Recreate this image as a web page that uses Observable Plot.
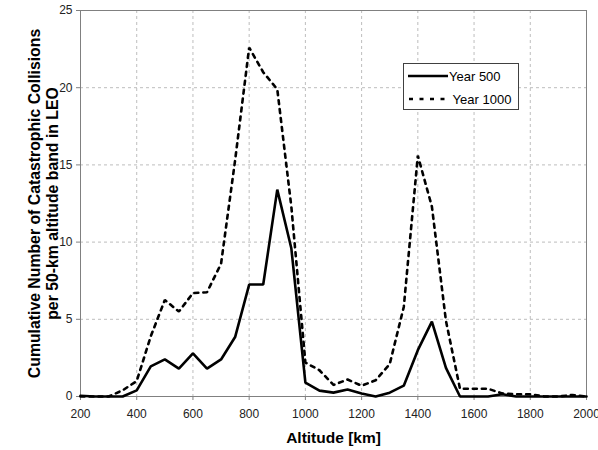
<!DOCTYPE html>
<html>
<head>
<meta charset="utf-8">
<script src="https://cdn.jsdelivr.net/npm/d3@7"></script>
<script src="https://cdn.jsdelivr.net/npm/@observablehq/plot@0.6"></script>
<style>
  body { margin: 0; background: #fff; }
  #wrap { position: relative; width: 598px; height: 450px; }
  #legend {
    position: absolute; left: 403px; top: 63px; width: 114px; height: 45px;
    border: 1px solid #404040; background: #fff;
    font-family: "Liberation Sans", Arial, sans-serif; font-size: 13px; color: #000;
  }
  .row { position: absolute; left: 4px; height: 16px; display: flex; align-items: center; }
  .row svg { margin-right: 1px; }
</style>
</head>
<body>
<div id="wrap"></div>
<script>
const altitudes = [200, 250, 300, 350, 400, 450, 500, 550, 600, 650, 700, 750, 800, 850, 900, 950,
  1000, 1050, 1100, 1150, 1200, 1250, 1300, 1350, 1400, 1450, 1500, 1550, 1600, 1650, 1700, 1750,
  1800, 1850, 1900, 1950, 2000];
const year500 = [0.05, 0, 0, 0, 0.4, 1.95, 2.4, 1.8, 2.8, 1.8, 2.4, 3.85, 7.25, 7.25, 13.4, 9.6,
  0.9, 0.38, 0.25, 0.45, 0.2, 0, 0.25, 0.7, 3.0, 4.85, 1.85, 0, 0, 0, 0.15, 0,
  0, 0, 0, 0, 0];
const year1000 = [0, 0, 0, 0.4, 1.0, 3.9, 6.25, 5.5, 6.7, 6.75, 8.6, 15.3, 22.6, 21.0, 19.9, 12.3,
  2.2, 1.7, 0.75, 1.1, 0.7, 1.05, 2.1, 5.8, 15.6, 12.3, 4.9, 0.5, 0.5, 0.5, 0.2, 0.15,
  0.15, 0, 0, 0.1, 0];
const seriesNames = ["Year 500", "Year 1000"];
const xTicks = [200, 400, 600, 800, 1000, 1200, 1400, 1600, 1800, 2000];
const yTicks = [0, 5, 10, 15, 20, 25];
const xTitle = "Altitude [km]";
const yTitle = "Cumulative Number of Catastrophic Collisions\nper 50-km altitude band in LEO";

const d500 = altitudes.map((a, i) => ({alt: a, v: year500[i]}));
const d1000 = altitudes.map((a, i) => ({alt: a, v: year1000[i]}));

const chart = Plot.plot({
  width: 598,
  height: 450,
  marginLeft: 80,
  marginRight: 12,
  marginTop: 10,
  marginBottom: 54,
  style: {fontFamily: "Liberation Sans, Arial, sans-serif", fontSize: "12px", color: "#222", background: "#fff", overflow: "visible"},
  x: {domain: [200, 2000], ticks: xTicks, label: null},
  y: {domain: [0, 25], ticks: yTicks, label: null},
  marks: [
    Plot.gridX(xTicks, {stroke: "#bdbdbd", strokeOpacity: 1, strokeDasharray: "3,3"}),
    Plot.gridY(yTicks, {stroke: "#bdbdbd", strokeOpacity: 1, strokeDasharray: "3,3"}),
    Plot.frame({stroke: "#808080"}),
    Plot.axisX({ticks: xTicks, tickSize: 4, tickPadding: 9, label: null, stroke: "#808080", tickFormat: d => String(d)}),
    Plot.axisY({ticks: yTicks, tickSize: 4, tickPadding: 4, label: null, stroke: "#808080", tickFormat: d => String(d)}),
    Plot.line(d1000, {x: "alt", y: "v", stroke: "#000", strokeWidth: 2.6, strokeDasharray: "4,5", strokeLinejoin: "miter"}),
    Plot.line(d500, {x: "alt", y: "v", stroke: "#000", strokeWidth: 2.6, strokeLinejoin: "miter"}),
    Plot.text([xTitle], {frameAnchor: "bottom", dy: 42, fontWeight: "bold", fontSize: 15.5, fill: "#000", lineAnchor: "middle", textAnchor: "middle"}),
    Plot.text([yTitle], {frameAnchor: "left", dx: -37, rotate: -90, fontWeight: "bold", fontSize: 15.8, fill: "#000", lineAnchor: "middle", textAnchor: "middle", lineHeight: 1.13})
  ]
});
const wrap = document.getElementById("wrap");
wrap.appendChild(chart);

const legend = document.createElement("div");
legend.id = "legend";
legend.innerHTML = `
  <div class="row" style="top:4px">
    <svg width="40" height="6"><line x1="0" y1="3" x2="40" y2="3" stroke="#000" stroke-width="2.6"/></svg>
    <span>${seriesNames[0]}</span>
  </div>
  <div class="row" style="top:27px">
    <svg width="40" height="6"><line x1="1" y1="3" x2="40" y2="3" stroke="#000" stroke-width="2.6" stroke-dasharray="4,6.5"/></svg>
    <span>&nbsp;${seriesNames[1]}</span>
  </div>`;
wrap.appendChild(legend);
</script>
</body>
</html>
